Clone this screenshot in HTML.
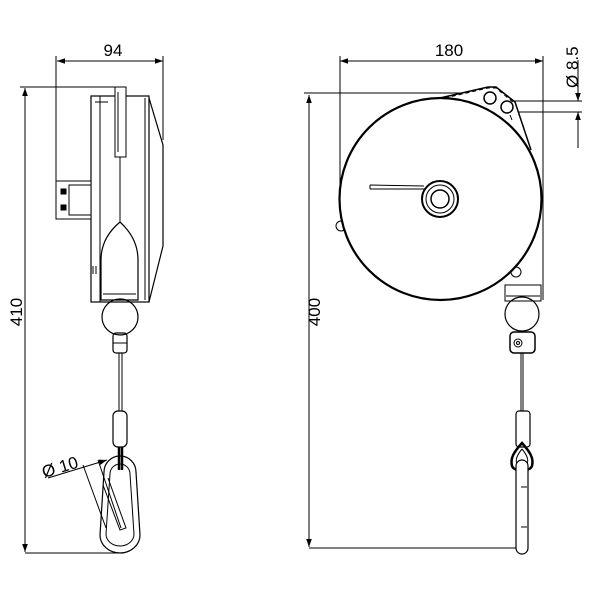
<!DOCTYPE html>
<html><head><meta charset="utf-8"><style>html,body{margin:0;padding:0;background:#fff}svg{display:block}</style></head>
<body>
<svg width="600" height="600" viewBox="0 0 600 600" xmlns="http://www.w3.org/2000/svg">
<defs>
<marker id="a" viewBox="0 0 10 10" refX="10" refY="5" markerWidth="8" markerHeight="8" orient="auto-start-reverse" markerUnits="userSpaceOnUse"><path d="M0,1.5 L10,5 L0,8.5 z" fill="#000"/></marker>
</defs>
<g fill="none" stroke="#000" stroke-width="1" font-family="Liberation Sans, sans-serif">
<!-- LEFT VIEW dims -->
<line x1="57" y1="61" x2="163" y2="61" marker-start="url(#a)" marker-end="url(#a)"/>
<line x1="56" y1="56" x2="56" y2="182"/>
<line x1="163" y1="56" x2="163" y2="140"/>
<text x="113" y="56" font-size="17" text-anchor="middle" fill="#000" stroke="none">94</text>
<line x1="25" y1="88" x2="25" y2="552" marker-start="url(#a)" marker-end="url(#a)"/>
<line x1="20" y1="87" x2="124" y2="87"/>
<line x1="25" y1="553" x2="122" y2="553"/>
<text transform="translate(22,312) rotate(-90)" font-size="17" text-anchor="middle" fill="#000" stroke="none">410</text>
<!-- body -->
<rect x="91" y="96" width="58" height="206" stroke-width="1.2"/>
<path d="M149,98 L163,145 L163,246 L149,302" stroke-width="1.2"/>
<line x1="100" y1="96" x2="100" y2="302"/>
<line x1="145" y1="98" x2="145" y2="300"/>
<line x1="95" y1="102" x2="108" y2="102"/>
<rect x="115" y="87" width="11" height="70" fill="#fff"/>
<line x1="118" y1="92" x2="118" y2="152"/>
<rect x="56" y="181" width="35" height="38" fill="#fff"/>
<rect x="69" y="185" width="22" height="30"/>
<rect x="61" y="189" width="5" height="5" fill="#000"/>
<rect x="61" y="205" width="5" height="5" fill="#000"/>
<line x1="120" y1="157" x2="120" y2="222"/>
<path d="M120,222 C108,232 101,245 101,260 L101,300 L138,300 L138,260 C138,245 131,232 120,222 Z" stroke-width="1.2"/>
<line x1="103" y1="294" x2="136" y2="294"/>
<line x1="93" y1="266" x2="93" y2="274"/><line x1="96" y1="266" x2="96" y2="274"/>
<circle cx="120" cy="317" r="18" stroke-width="1.2"/>
<rect x="113" y="333" width="14" height="20" rx="3" stroke-width="1.2"/>
<line x1="113" y1="343" x2="127" y2="343"/>
<line x1="119" y1="353" x2="119" y2="411"/><line x1="122" y1="353" x2="122" y2="411"/>
<rect x="113" y="411" width="14" height="36" rx="5" stroke-width="1.2"/>
<line x1="119" y1="447" x2="119" y2="470" stroke-width="2.5"/>
<line x1="122" y1="447" x2="122" y2="470" stroke-width="2.5"/>
<!-- carabiner -->
<path d="M104,472 A16,16 0 0 1 136,472 L140,535 A20,18 0 0 1 100,535 Z" stroke-width="1.2"/>
<path d="M110,474 A10,10 0 0 1 130,474 L134,534 A14,12 0 0 1 106,534 Z"/>
<path d="M108,478 L126,528 L120,530 L103,485"/>
<!-- Ø10 -->
<line x1="48" y1="478" x2="107" y2="460" marker-end="url(#a)"/>
<line x1="83" y1="465" x2="106" y2="528"/>
<line x1="98" y1="460" x2="121" y2="528"/>
<text transform="translate(44,478) rotate(-17)" font-size="17" fill="#000" stroke="none">Ø 10</text>

<!-- RIGHT VIEW dims -->
<line x1="340" y1="61" x2="543" y2="61" marker-start="url(#a)" marker-end="url(#a)"/>
<line x1="340" y1="56" x2="340" y2="195"/>
<line x1="543" y1="56" x2="543" y2="300"/>
<text x="449" y="56" font-size="17" text-anchor="middle" fill="#000" stroke="none">180</text>
<line x1="309" y1="95" x2="309" y2="547" marker-start="url(#a)" marker-end="url(#a)"/>
<line x1="304" y1="93" x2="470" y2="93"/>
<line x1="309" y1="548" x2="520" y2="548"/>
<text transform="translate(320,312) rotate(-90)" font-size="17" text-anchor="middle" fill="#000" stroke="none">400</text>
<!-- Ø8.5 -->
<line x1="512" y1="101" x2="582" y2="101"/>
<line x1="512" y1="112" x2="582" y2="112"/>
<line x1="578" y1="60" x2="578" y2="101" marker-end="url(#a)"/>
<line x1="578" y1="148" x2="578" y2="112" marker-end="url(#a)"/>
<text transform="translate(578,88) rotate(-90)" font-size="17" fill="#000" stroke="none">Ø 8.5</text>
<!-- housing -->
<rect x="505" y="285" width="36" height="16" fill="#fff"/>
<line x1="506" y1="296" x2="540" y2="296"/>
<path d="M440,98 L488,87 L496,87 L515,102 L531,150" stroke-width="1.5" fill="#fff"/>
<circle cx="341" cy="226" r="5" fill="#fff"/>
<circle cx="516" cy="272" r="5" fill="#fff"/>
<circle cx="440.5" cy="199" r="101" stroke-width="2.2" fill="#fff"/>
<path d="M445,98 L488,88 L496,88 L514,103" stroke-width="1" stroke-dasharray="4,3"/>
<circle cx="490" cy="98" r="6" stroke-width="1.5" fill="#fff"/>
<circle cx="507" cy="107" r="6" stroke-width="1.5" fill="#fff"/>
<path d="M510,115 L512,120" />
<line x1="370" y1="185" x2="424" y2="186"/><line x1="370" y1="189" x2="424" y2="189"/><line x1="370" y1="185" x2="370" y2="189"/>
<circle cx="440" cy="199" r="18" stroke-width="2" fill="#fff"/>
<circle cx="440" cy="199" r="14"/>
<circle cx="440" cy="199" r="9" stroke-width="1.5"/>
<circle cx="522" cy="314" r="17" stroke-width="1.2"/>
<rect x="510" y="332" width="25" height="21" rx="4" stroke-width="1.5"/>
<circle cx="518" cy="343" r="4"/><circle cx="518" cy="343" r="1.5"/>
<line x1="521" y1="353" x2="521" y2="411"/><line x1="523" y1="353" x2="523" y2="411"/>
<rect x="516" y="411" width="14" height="36" rx="3" stroke-width="1.2"/>
<path d="M522,443 C514,452 510,458 512,466 C514,472 530,472 532,466 C534,458 530,452 522,443 Z" stroke-width="2.5"/>
<path d="M522,449 C517,455 515,460 517,464 M522,449 C527,455 529,460 527,464"/>
<path d="M516,466 L516,548 A6,6 0 0 0 528,548 L528,466 A6,6 0 0 0 516,466 Z" fill="#fff" stroke-width="1.2"/>
<line x1="521" y1="487" x2="527" y2="487"/><line x1="521" y1="527" x2="527" y2="527"/>
</g>
</svg>
</body></html>
